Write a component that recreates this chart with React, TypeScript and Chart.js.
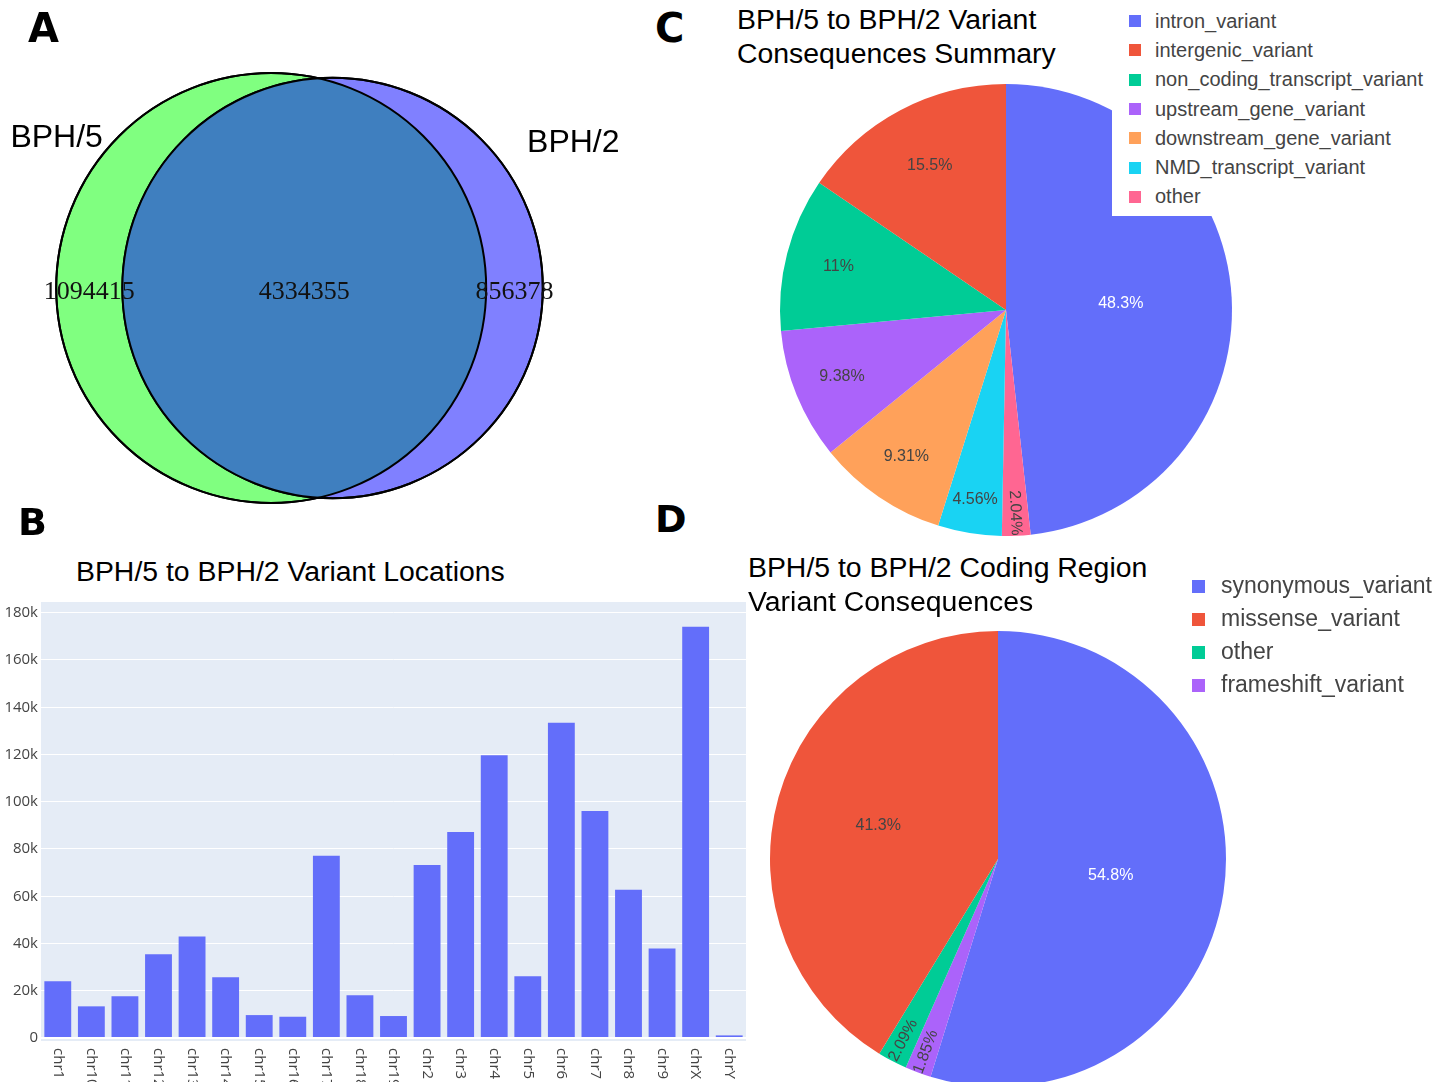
import React, { useEffect, useRef } from 'react';
import { Chart, registerables } from 'chart.js';

Chart.register(...registerables);

// ---------------- Data ----------------
const vennSetNames = ['BPH/5', 'BPH/2'];
const vennOnlyCounts = [1094415, 856378];
const vennSharedCount = 4334355;

const chromosomes = [
  'chr1', 'chr10', 'chr11', 'chr12', 'chr13', 'chr14', 'chr15', 'chr16', 'chr17', 'chr18', 'chr19',
  'chr2', 'chr3', 'chr4', 'chr5', 'chr6', 'chr7', 'chr8', 'chr9', 'chrX', 'chrY',
];
const variantCounts = [
  24000, 13400, 17700, 35500, 43000, 25700, 9700, 9000, 77100, 18100, 9300,
  73200, 87200, 119700, 26100, 133400, 96100, 62700, 37900, 174100, 1100,
];
const yTickValues = [0, 20000, 40000, 60000, 80000, 100000, 120000, 140000, 160000, 180000];

const consequenceLabels = [
  'intron_variant', 'intergenic_variant', 'non_coding_transcript_variant', 'upstream_gene_variant',
  'downstream_gene_variant', 'NMD_transcript_variant', 'other',
];
const consequencePercents = [48.3, 15.5, 11, 9.38, 9.31, 4.56, 2.04];

const codingLabels = ['synonymous_variant', 'missense_variant', 'other', 'frameshift_variant'];
const codingPercents = [54.8, 41.3, 2.09, 1.85];

const plotlyColors = ['#636efa', '#EF553B', '#00cc96', '#ab63fa', '#FFA15A', '#19d3f3', '#FF6692'];

const titleB = 'BPH/5 to BPH/2 Variant Locations';
const titleC = ['BPH/5 to BPH/2 Variant', 'Consequences Summary'];
const titleD = ['BPH/5 to BPH/2 Coding Region', 'Variant Consequences'];

// ---------------- Layout constants ----------------
const SANS = "'Liberation Sans', Arial, sans-serif";
const VENN_R_MAX = 215;
const VENN_CX = 299.5;
const VENN_CY = 288;

// ---------------- Helpers ----------------
function lensArea(r1: number, r2: number, d: number) {
  if (d >= r1 + r2) return 0;
  if (d <= Math.abs(r1 - r2)) return Math.PI * Math.min(r1, r2) ** 2;
  const a1 = Math.acos((d * d + r1 * r1 - r2 * r2) / (2 * d * r1));
  const a2 = Math.acos((d * d + r2 * r2 - r1 * r1) / (2 * d * r2));
  const k = Math.sqrt((-d + r1 + r2) * (d + r1 - r2) * (d - r1 + r2) * (d + r1 + r2));
  return r1 * r1 * a1 + r2 * r2 * a2 - 0.5 * k;
}
function solveDistance(r1: number, r2: number, target: number) {
  let lo = Math.abs(r1 - r2) + 1e-6;
  let hi = r1 + r2;
  for (let i = 0; i < 80; i++) {
    const m = (lo + hi) / 2;
    if (lensArea(r1, r2, m) > target) lo = m;
    else hi = m;
  }
  return (lo + hi) / 2;
}

function useChart(ref: React.RefObject<HTMLCanvasElement>, makeConfig: () => any) {
  useEffect(() => {
    if (!ref.current) return;
    const chart = new Chart(ref.current, makeConfig());
    return () => chart.destroy();
  }, []);
}

// ---------------- Venn (panel A) ----------------
function VennChart() {
  const ref = useRef<HTMLCanvasElement>(null);
  useChart(ref, () => {
    const totals = vennOnlyCounts.map((c) => c + vennSharedCount);
    const unit = VENN_R_MAX / Math.sqrt(Math.max(...totals));
    const radii = totals.map((t) => Math.sqrt(t) * unit);
    const d = solveDistance(radii[0], radii[1], Math.PI * unit * unit * vennSharedCount);
    const cx0 = VENN_CX - (d + radii[1] - radii[0]) / 2;
    const cx1 = cx0 + d;

    const vennPlugin = {
      id: 'vennOverlay',
      afterDatasetsDraw(chart: any) {
        const { ctx } = chart;
        const meta = chart.getDatasetMeta(0);
        const p0 = meta.data[0];
        const p1 = meta.data[1];
        const R0 = p0.options.radius;
        const R1 = p1.options.radius;
        ctx.save();
        ctx.beginPath();
        ctx.arc(p0.x, p0.y, R0, 0, Math.PI * 2);
        ctx.clip();
        ctx.beginPath();
        ctx.arc(p1.x, p1.y, R1, 0, Math.PI * 2);
        ctx.fillStyle = '#3f7fbf';
        ctx.fill();
        ctx.restore();

        ctx.save();
        ctx.lineWidth = 2;
        ctx.strokeStyle = '#000';
        [[p0, R0], [p1, R1]].forEach(([p, R]: any) => {
          ctx.beginPath();
          ctx.arc(p.x, p.y, R, 0, Math.PI * 2);
          ctx.stroke();
        });

        // counts
        ctx.fillStyle = '#111';
        ctx.font = "26px 'Liberation Serif', 'Times New Roman', serif";
        ctx.textAlign = 'center';
        ctx.textBaseline = 'alphabetic';
        const ty = p0.y + 10.5;
        const l0 = p0.x - R0, l1 = p1.x - R1, r0 = p0.x + R0, r1 = p1.x + R1;
        ctx.fillText(String(vennOnlyCounts[0]), (l0 + l1) / 2, ty);
        ctx.fillText(String(vennSharedCount), (l1 + r0) / 2, ty);
        ctx.fillText(String(vennOnlyCounts[1]), (r0 + r1) / 2, ty);

        // set names
        ctx.fillStyle = '#000';
        ctx.font = `32px ${SANS}`;
        ctx.fillText(vennSetNames[0], p0.x - 0.998 * R0, p0.y - 0.658 * R0);
        ctx.fillText(vennSetNames[1], p1.x + 1.145 * R1, p1.y - 0.645 * R1);
        ctx.restore();
      },
    };

    return {
      type: 'scatter',
      data: {
        datasets: [
          {
            data: [
              { x: cx0, y: VENN_CY },
              { x: cx1, y: VENN_CY },
            ],
            pointBackgroundColor: ['#80ff80', '#8080ff'],
            pointBorderColor: '#000',
            pointBorderWidth: 2,
            pointRadius: (c: any) => {
              const s = c.chart.scales.x;
              return s.getPixelForValue(radii[c.dataIndex]) - s.getPixelForValue(0);
            },
            pointHoverRadius: (c: any) => {
              const s = c.chart.scales.x;
              return s.getPixelForValue(radii[c.dataIndex]) - s.getPixelForValue(0);
            },
            clip: false,
          },
        ],
      },
      options: {
        responsive: false,
        animation: false,
        events: [],
        layout: { padding: 0 },
        plugins: { legend: { display: false }, tooltip: { enabled: false } },
        scales: {
          x: { type: 'linear', min: 0, max: 640, display: false },
          y: { type: 'linear', min: 0, max: 520, reverse: true, display: false },
        },
      },
      plugins: [vennPlugin],
    };
  });
  return (
    <canvas
      ref={ref}
      width={640}
      height={520}
      style={{ position: 'absolute', left: 0, top: 0, width: 640, height: 520 }}
    />
  );
}

// ---------------- Bar chart (panel B) ----------------
function BarChart() {
  const ref = useRef<HTMLCanvasElement>(null);
  useChart(ref, () => {
    const bgPlugin = {
      id: 'plotBg',
      beforeDraw(chart: any) {
        const { ctx, chartArea } = chart;
        ctx.save();
        ctx.fillStyle = '#e5ecf6';
        ctx.fillRect(chartArea.left, chartArea.top, chartArea.right - chartArea.left, chartArea.bottom - chartArea.top + 3);
        ctx.restore();
      },
    };
    const xLabelPlugin = {
      id: 'xLabels',
      afterDraw(chart: any) {
        const { ctx, chartArea } = chart;
        const xs = chart.scales.x;
        ctx.save();
        ctx.fillStyle = '#444';
        ctx.font = "15px 'Open Sans', sans-serif";
        ctx.textAlign = 'left';
        ctx.textBaseline = 'middle';
        chart.data.labels.forEach((lab: string, i: number) => {
          const px = xs.getPixelForTick(i);
          ctx.save();
          ctx.translate(px, chartArea.bottom + 10);
          ctx.rotate(Math.PI / 2);
          ctx.fillText(lab, 0, 0);
          ctx.restore();
        });
        ctx.restore();
      },
    };
    return {
      type: 'bar',
      data: {
        labels: chromosomes,
        datasets: [
          {
            data: variantCounts,
            backgroundColor: '#636efa',
            borderWidth: 0,
            barPercentage: 0.8,
            categoryPercentage: 1.0,
          },
        ],
      },
      options: {
        responsive: false,
        animation: false,
        events: [],
        layout: { padding: { top: 10, right: 14, bottom: 44, left: 0 } },
        plugins: { legend: { display: false }, tooltip: { enabled: false } },
        scales: {
          x: {
            grid: { display: false },
            border: { display: false },
            ticks: { display: false },
            afterFit: (s: any) => {
              s.height = 0;
            },
          },
          y: {
            min: 0,
            max: Math.max(...variantCounts) * 1.06,
            afterFit: (s: any) => {
              s.width = 61;
            },
            afterBuildTicks: (s: any) => {
              s.ticks = yTickValues.map((v) => ({ value: v }));
            },
            grid: {
              color: '#ffffff',
              lineWidth: (c: any) => (c.tick && c.tick.value === 0 ? 2 : 1),
              drawTicks: false,
            },
            border: { display: false },
            ticks: {
              padding: 3,
              color: '#444',
              font: { family: "'Open Sans', sans-serif", size: 15 },
              callback: (v: number) => (v === 0 ? '0' : `${v / 1000}k`),
            },
          },
        },
      },
      plugins: [bgPlugin, xLabelPlugin],
    };
  });
  return (
    <canvas
      ref={ref}
      width={780}
      height={492}
      style={{ position: 'absolute', left: -20, top: 590, width: 780, height: 492 }}
    />
  );
}

// ---------------- Pie charts (panels C, D) ----------------
function luma(hex: string) {
  const h = hex.replace('#', '');
  const r = parseInt(h.slice(0, 2), 16);
  const g = parseInt(h.slice(2, 4), 16);
  const b = parseInt(h.slice(4, 6), 16);
  return 0.299 * r + 0.587 * g + 0.114 * b;
}

function PieChart({ labels, values, left, top, size }: { labels: string[]; values: number[]; left: number; top: number; size: number }) {
  const ref = useRef<HTMLCanvasElement>(null);
  useChart(ref, () => {
    const order = [0, ...values.map((_, i) => i).slice(1).reverse()];
    const data = order.map((i) => values[i]);
    const colors = order.map((i) => plotlyColors[i]);
    const labelPlugin = {
      id: 'pieLabels',
      afterDatasetsDraw(chart: any) {
        const { ctx } = chart;
        const meta = chart.getDatasetMeta(0);
        const ds = chart.data.datasets[0];
        const total = ds.data.reduce((a: number, b: number) => a + b, 0);
        ctx.save();
        ctx.font = `16px ${SANS}`;
        ctx.textAlign = 'center';
        ctx.textBaseline = 'middle';
        meta.data.forEach((arc: any, i: number) => {
          const { x, y, startAngle, endAngle, outerRadius } = arc.getProps(
            ['x', 'y', 'startAngle', 'endAngle', 'outerRadius'],
            true,
          );
          const frac = ds.data[i] / total;
          const mid = (startAngle + endAngle) / 2;
          const rf = Math.max(0.5, 0.5 + 0.5 * (1 - Math.sqrt(2 * frac)));
          const px = x + Math.cos(mid) * outerRadius * rf;
          const py = y + Math.sin(mid) * outerRadius * rf;
          ctx.save();
          ctx.translate(px, py);
          if (frac < 0.03) {
            let ang = mid;
            while (ang > Math.PI / 2) ang -= Math.PI;
            while (ang <= -Math.PI / 2) ang += Math.PI;
            ctx.rotate(ang);
          }
          ctx.fillStyle = luma(ds.backgroundColor[i]) < 125 ? '#ffffff' : '#444444';
          ctx.fillText(`${ds.data[i]}%`, 0, 0);
          ctx.restore();
        });
        ctx.restore();
      },
    };
    return {
      type: 'pie',
      data: {
        labels: order.map((i) => labels[i]),
        datasets: [{ data, backgroundColor: colors, borderWidth: 0 }],
      },
      options: {
        responsive: false,
        animation: false,
        events: [],
        rotation: 0,
        layout: { padding: 14 },
        plugins: { legend: { display: false }, tooltip: { enabled: false } },
      },
      plugins: [labelPlugin],
    };
  });
  return (
    <canvas
      ref={ref}
      width={size}
      height={size}
      style={{ position: 'absolute', left, top, width: size, height: size }}
    />
  );
}

// ---------------- HTML text helpers ----------------
function Txt({ x, base, size, children, family = SANS, weight = 400, color = '#000' }: any) {
  return (
    <div
      style={{
        position: 'absolute',
        left: x,
        top: base - 0.846 * size,
        fontSize: size,
        lineHeight: `${size}px`,
        fontFamily: family,
        fontWeight: weight,
        color,
        whiteSpace: 'nowrap',
      }}
    >
      {children}
    </div>
  );
}

function Legend({ labels, x, textX, y0, step, size, square, boxed }: any) {
  return (
    <>
      {boxed && (
        <div style={{ position: 'absolute', left: boxed.x, top: boxed.y, width: boxed.w, height: boxed.h, background: '#fff' }} />
      )}
      {labels.map((lab: string, i: number) => {
        const cy = y0 + i * step;
        return (
          <React.Fragment key={lab}>
            <div
              style={{
                position: 'absolute',
                left: x,
                top: cy - square / 2,
                width: square,
                height: square,
                background: plotlyColors[i],
              }}
            />
            <Txt x={textX} base={cy + 0.33 * size} size={size} color="#444">
              {lab}
            </Txt>
          </React.Fragment>
        );
      })}
    </>
  );
}

export default function App() {
  return (
    <div
      style={{
        position: 'absolute',
        left: 0,
        top: 0,
        width: 1447,
        height: 1082,
        overflow: 'hidden',
        background: '#fff',
      }}
    >
      <VennChart />
      <BarChart />
      <PieChart labels={consequenceLabels} values={consequencePercents} left={766} top={70} size={480} />
      <PieChart labels={codingLabels} values={codingPercents} left={756} top={617} size={484} />

      <Legend
        labels={consequenceLabels}
        x={1129}
        textX={1155}
        y0={21}
        step={29.3}
        size={20}
        square={12}
        boxed={{ x: 1112, y: 0, w: 335, h: 216 }}
      />
      <Legend labels={codingLabels} x={1192} textX={1221} y0={586} step={33} size={23} square={13} />

      <Txt x={76} base={581} size={28.4}>{titleB}</Txt>
      <Txt x={737} base={29} size={28.4}>{titleC[0]}</Txt>
      <Txt x={737} base={63} size={28.4}>{titleC[1]}</Txt>
      <Txt x={748} base={577} size={28.4}>{titleD[0]}</Txt>
      <Txt x={748} base={611} size={28.4}>{titleD[1]}</Txt>

      <Txt x={28} base={42} size={40} weight={900} family="'DejaVu Sans', sans-serif">A</Txt>
      <Txt x={18} base={535} size={38} weight={900} family="'DejaVu Sans', sans-serif">B</Txt>
      <Txt x={655} base={42} size={40} weight={900} family="'DejaVu Sans', sans-serif">C</Txt>
      <Txt x={655} base={532} size={38} weight={900} family="'DejaVu Sans', sans-serif">D</Txt>
    </div>
  );
}
